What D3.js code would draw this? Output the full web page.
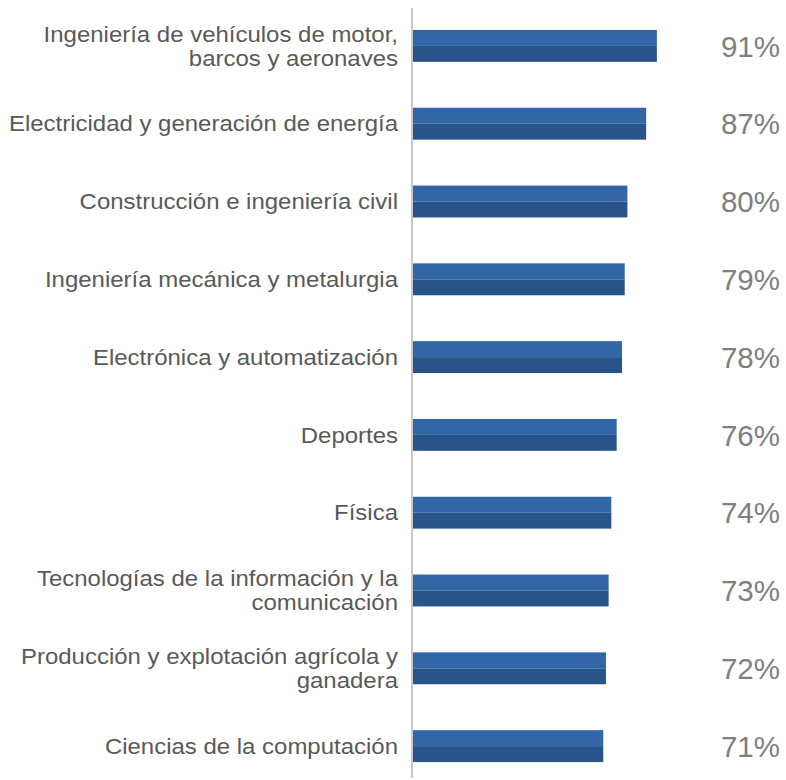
<!DOCTYPE html>
<html>
<head>
<meta charset="utf-8">
<script src="https://cdn.jsdelivr.net/npm/d3@7"></script>
<style>
  body { margin: 0; background: #fff; }
  svg { display: block; font-family: "Liberation Sans", Arial, sans-serif; }
</style>
</head>
<body>
<svg class="chart"></svg>
<script>
// Data
var categories = [
  ["Ingeniería de vehículos de motor,", "barcos y aeronaves"],
  ["Electricidad y generación de energía"],
  ["Construcción e ingeniería civil"],
  ["Ingeniería mecánica y metalurgia"],
  ["Electrónica y automatización"],
  ["Deportes"],
  ["Física"],
  ["Tecnologías de la información y la", "comunicación"],
  ["Producción y explotación agrícola y", "ganadera"],
  ["Ciencias de la computación"]
];
var values = [91, 87, 80, 79, 78, 76, 74, 73, 72, 71];

var width = 786, height = 780;
var chart = d3.select(".chart")
  .attr("width", width)
  .attr("height", height);

// scales
var x = d3.scaleLinear().domain([0, 100]).range([413, 681]);
var y = d3.scaleBand()
  .domain(d3.range(categories.length))
  .range([7, 785])
  .paddingInner(0.59)
  .paddingOuter(0.295);

var barH = y.bandwidth();

var row = chart.selectAll("g.row")
  .data(values)
  .enter().append("g")
    .attr("class", "row");

// top (lighter) half and bottom (darker) half of each bar
row.append("rect")
  .attr("x", x(0))
  .attr("y", function(d, i) { return y(i); })
  .attr("width", function(d) { return x(d) - x(0); })
  .attr("height", barH / 2)
  .attr("fill", "#3366a6");
row.append("rect")
  .attr("x", x(0))
  .attr("y", function(d, i) { return y(i) + barH / 2; })
  .attr("width", function(d) { return x(d) - x(0); })
  .attr("height", barH / 2)
  .attr("fill", "#28548a");

// value labels
row.append("text")
  .attr("x", 780)
  .attr("y", function(d, i) { return y(i) + barH / 2; })
  .attr("dy", "0.36em")
  .attr("text-anchor", "end")
  .style("font-size", "29.5px")
  .attr("fill", "#7f7f7f")
  .text(function(d) { return d + "%"; });

// category labels (may be two lines), slightly wide like the original
var lineH = 24;
row.append("text")
  .attr("text-anchor", "end")
  .attr("transform", "translate(398,0) scale(1.09,1)")
  .style("font-size", "22px")
  .attr("fill", "#595959")
  .each(function(d, i) {
    var lines = categories[i];
    var cy = y(i) + barH / 2;
    var start = cy - (lines.length - 1) * lineH / 2;
    d3.select(this).selectAll("tspan")
      .data(lines)
      .enter().append("tspan")
        .attr("x", 0)
        .attr("y", function(l, j) { return start + j * lineH; })
        .attr("dy", "0.35em")
        .text(function(l) { return l; });
  });

// vertical axis line
chart.append("line")
  .attr("x1", 412).attr("x2", 412)
  .attr("y1", 8).attr("y2", 778)
  .attr("stroke", "#c8c8c8")
  .attr("stroke-width", 2);
</script>
</body>
</html>
